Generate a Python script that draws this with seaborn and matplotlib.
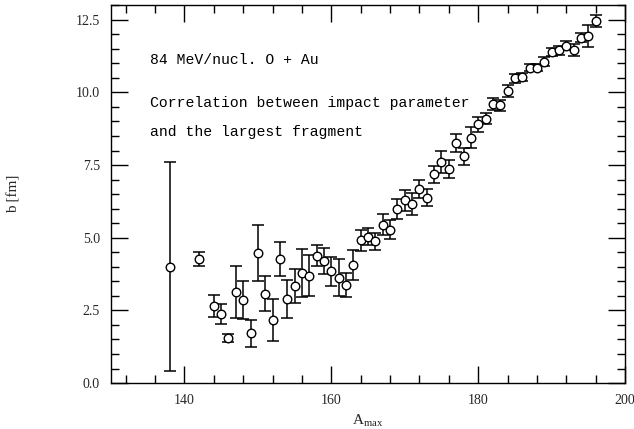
import numpy as np
import matplotlib
matplotlib.use("Agg")
import matplotlib.pyplot as plt
from matplotlib.ticker import MultipleLocator
import seaborn as sns

sns.set_style("ticks")
plt.rcParams['font.family'] = ['Liberation Serif', 'DejaVu Serif']
plt.rcParams['mathtext.fontset'] = 'custom'
plt.rcParams['mathtext.rm'] = 'Liberation Serif'

# %% Data
a_max = [138, 142, 144, 145, 146, 147, 148, 149, 150, 151, 152, 153, 154, 155,
         156, 157, 158, 159, 160, 161, 162, 163, 164, 165, 166, 167, 168, 169,
         170, 171, 172, 173, 174, 175, 176, 177, 178, 179, 180, 181, 182, 183,
         184, 185, 186, 187, 188, 189, 190, 191, 192, 193, 194, 195, 196]
b_fm = [4.01, 4.27, 2.66, 2.37, 1.55, 3.13, 2.86, 1.71, 4.47, 3.07, 2.17, 4.26,
        2.90, 3.34, 3.78, 3.70, 4.38, 4.21, 3.84, 3.63, 3.36, 4.07, 4.91, 5.04,
        4.88, 5.44, 5.28, 5.99, 6.29, 6.16, 6.68, 6.38, 7.18, 7.60, 7.37, 8.26,
        7.80, 8.44, 8.90, 9.10, 9.61, 9.55, 10.05, 10.48, 10.53, 10.85, 10.85,
        11.06, 11.39, 11.45, 11.60, 11.46, 11.88, 11.94, 12.46]
b_err = [3.60, 0.24, 0.38, 0.35, 0.14, 0.90, 0.66, 0.46, 0.97, 0.60, 0.72, 0.59,
         0.66, 0.57, 0.83, 0.70, 0.36, 0.45, 0.49, 0.63, 0.41, 0.52, 0.35, 0.29,
         0.29, 0.36, 0.33, 0.34, 0.36, 0.37, 0.30, 0.30, 0.30, 0.37, 0.30, 0.31,
         0.30, 0.36, 0.26, 0.20, 0.20, 0.20, 0.22, 0.15, 0.15, 0.12, 0.12, 0.15,
         0.15, 0.15, 0.15, 0.20, 0.15, 0.37, 0.20]

# %% Plot
fig = plt.figure(figsize=(6.34, 4.29), dpi=100)
ax = fig.add_axes([0.175, 0.107, 0.811, 0.881])

ax.errorbar(a_max, b_fm, yerr=b_err, fmt='none', ecolor='black',
            elinewidth=1.1, capsize=4, capthick=1.1)
sns.scatterplot(x=a_max, y=b_fm, ax=ax, marker='o', s=38,
                facecolor='white', edgecolor='black', linewidth=1.0, zorder=3)

ax.set_xlim(130, 200)
ax.set_ylim(0, 13)
ax.xaxis.set_major_locator(MultipleLocator(20))
ax.xaxis.set_minor_locator(MultipleLocator(4))
ax.yaxis.set_major_locator(MultipleLocator(2.5))
ax.yaxis.set_minor_locator(MultipleLocator(0.5))
ax.yaxis.set_major_formatter(plt.FormatStrFormatter('%.1f'))
ax.tick_params(which='both', direction='in', top=True, right=True,
               labelsize=10, color='black', width=1.0)
ax.tick_params(which='major', length=12, pad=8)
ax.tick_params(which='minor', length=6)
for sp in ax.spines.values():
    sp.set_linewidth(1.0)
    sp.set_color('black')

ax.set_xlabel(r'A$_{\mathrm{max}}$', fontsize=11)
ax.set_ylabel('b [fm]', fontsize=11, labelpad=40)

txt = dict(transform=ax.transAxes, fontsize=10.6, family=['Liberation Mono', 'DejaVu Sans Mono'],
           va='center', ha='left', color='black')
ax.text(0.075, 0.855, '84 MeV/nucl. O + Au', **txt)
ax.text(0.075, 0.740, 'Correlation between impact parameter', **txt)
ax.text(0.075, 0.665, 'and the largest fragment', **txt)

plt.savefig('out.png', dpi=100)
